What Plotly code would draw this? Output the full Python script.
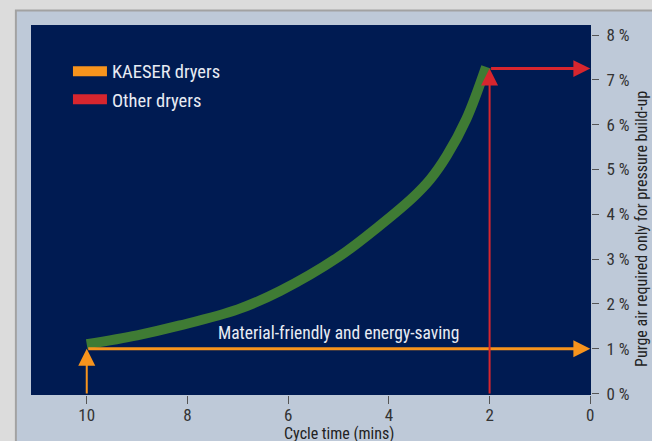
import plotly.graph_objects as go

# ---- data ----
cycle_time = [10, 9, 8.15, 7, 6.16, 5, 4.17, 3.51, 3.18, 2.85, 2.46, 2.07]
purge_air = [1.10, 1.30, 1.52, 1.88, 2.29, 3.05, 3.76, 4.39, 4.78, 5.31, 6.13, 7.29]

kaeser_cycle = 10
kaeser_purge = 1.0
other_cycle = 2
other_purge = 7.25

x_ticks = [10, 8, 6, 4, 2, 0]
y_ticks = [0, 1, 2, 3, 4, 5, 6, 7, 8]
y_ticktext = [f"{v} %" for v in y_ticks]

series_names = ["KAESER dryers", "Other dryers"]
note_text = "Material-friendly and energy-saving"
x_title = "Cycle time (mins)"
y_title = "Purge air required only for pressure build-up"

# ---- style ----
FONT = "Liberation Sans Narrow, Arial Narrow, Roboto Condensed, DejaVu Sans Condensed, sans-serif"
NAVY = "#001b52"
GREEN = "#3f7b34"
ORANGE = "#f7941d"
RED = "#d7262e"
PANEL = "#bec9d8"
OUTER = "#dcdcdc"
TEXT = "#333333"

X_RANGE = [11.107, -0.014]
Y_RANGE = [-0.031, 8.223]

fig = go.Figure()

fig.add_trace(go.Scatter(
    x=cycle_time, y=purge_air, mode="lines",
    line=dict(color=GREEN, width=10, shape="spline", smoothing=1.0),
    showlegend=False, hoverinfo="skip",
))

# legend entries
for name, col, grp in zip(series_names, [ORANGE, RED], ["a", "b"]):
    fig.add_trace(go.Scatter(
        x=[None], y=[None], mode="lines", name=name,
        legendgroup=grp,
        line=dict(color=col, width=11),
    ))

annotations = []

def arrow(x_head, y_head, x_tail, y_tail, color, width, size):
    annotations.append(dict(
        x=x_head, y=y_head, ax=x_tail, ay=y_tail,
        xref="x", yref="y", axref="x", ayref="y",
        text="", showarrow=True, arrowhead=2,
        arrowsize=size, arrowwidth=width, arrowcolor=color,
        standoff=0, startstandoff=0,
    ))

# KAESER arrows
arrow(kaeser_cycle, kaeser_purge, kaeser_cycle, Y_RANGE[0], ORANGE, 2, 1.7)
arrow(x_ticks[-1], kaeser_purge, kaeser_cycle, kaeser_purge, ORANGE, 3, 1.13)
# Other dryers arrows
arrow(other_cycle, other_purge, other_cycle, Y_RANGE[0], RED, 2, 1.7)
arrow(x_ticks[-1], other_purge, other_cycle, other_purge, RED, 3, 1.13)

annotations.append(dict(
    x=5.0, y=1.35, xref="x", yref="y", text=note_text, showarrow=False,
    font=dict(family=FONT, size=17.5, color="#e8ecf4"),
))
annotations.append(dict(
    x=5.0, y=-0.073, xref="x", yref="paper", yanchor="top",
    text=x_title, showarrow=False,
    font=dict(family=FONT, size=16, color="#222222"),
))
annotations.append(dict(
    x=1.111, y=0.448, xref="paper", yref="paper", textangle=-90,
    text=y_title, showarrow=False,
    font=dict(family=FONT, size=16, color="#222222"),
))

shapes = [
    dict(type="rect", xref="paper", yref="paper", layer="below",
         x0=-0.027, x1=1.3, y0=-0.3, y1=1.0392,
         fillcolor=PANEL, line=dict(color="#a2a2a2", width=2)),
    dict(type="rect", xref="x domain", yref="y domain", layer="below",
         x0=0, x1=1, y0=0, y1=1, fillcolor=NAVY, line=dict(width=0)),
]

fig.update_layout(
    width=652, height=441,
    margin=dict(l=31, r=61, t=25, b=46),
    paper_bgcolor=OUTER,
    plot_bgcolor="rgba(0,0,0,0)",
    font=dict(family=FONT, size=17, color=TEXT),
    shapes=shapes,
    annotations=annotations,
    showlegend=True,
    legend=dict(
        x=0.066, y=0.925, xanchor="left", yanchor="top",
        bgcolor="rgba(0,0,0,0)",
        font=dict(family=FONT, size=18.5, color="#e8ecf4"),
        tracegroupgap=1, itemwidth=34,
    ),
    xaxis=dict(
        range=X_RANGE, tickvals=x_ticks, ticks="outside", ticklen=8,
        tickcolor="#555555", tickwidth=1.2, showgrid=False, zeroline=False,
        showline=False, ticklabelstandoff=-3,
        tickfont=dict(family=FONT, size=17, color=TEXT),
    ),
    yaxis=dict(
        range=Y_RANGE, side="right", tickvals=y_ticks, ticktext=y_ticktext,
        ticks="outside", ticklen=7, tickcolor="#555555", tickwidth=1.2,
        showgrid=False, zeroline=False, showline=False, ticklabelstandoff=4,
        tickfont=dict(family=FONT, size=17, color=TEXT),
    ),
)

fig.write_html(
    "out.html",
    config={"displayModeBar": False},
    post_script="document.body.style.margin='0';document.body.style.overflow='hidden';",
)
